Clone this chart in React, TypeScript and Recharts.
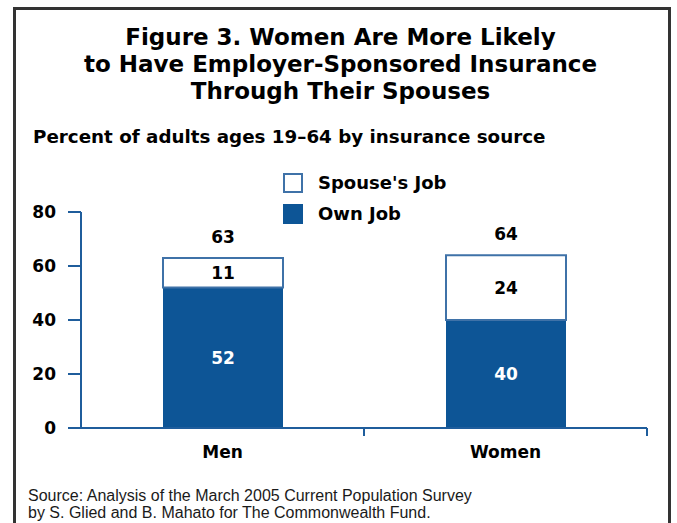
import React from 'react';
import { BarChart, Bar, XAxis, YAxis, LabelList, Legend } from 'recharts';

const categories = ['Men', 'Women'];
const ownJob = [52, 40];
const spouseJob = [11, 24];
const yTicks = [0, 20, 40, 60, 80];
const ownName = 'Own Job';
const spouseName = "Spouse's Job";
const titleLines = [
  'Figure 3. Women Are More Likely',
  'to Have Employer-Sponsored Insurance',
  'Through Their Spouses',
];
const subtitle = 'Percent of adults ages 19\u201364 by insurance source';
const sourceLines = [
  'Source: Analysis of the March 2005 Current Population Survey',
  'by S. Glied and B. Mahato for The Commonwealth Fund.',
];

const data = categories.map((c, i) => ({
  name: c,
  own: ownJob[i],
  spouse: spouseJob[i],
  total: ownJob[i] + spouseJob[i],
}));

const BLUE = '#0d5596';
const AXIS = '#1f5d9c';
const OUTLINE = '#3f72a8';
const BOLD = { fontFamily: 'DejaVu Sans', fontWeight: 'bold' as const, fontSize: 17 };
const X_TICK_SIZE = 8;
const X_TICK_MARGIN = 10;

const legendItems = [
  { name: spouseName, fill: '#ffffff', stroke: OUTLINE },
  { name: ownName, fill: BLUE, stroke: BLUE },
];

const renderLegend = () => (
  <div>
    {legendItems.map((it) => (
      <div key={it.name} style={{ display: 'flex', alignItems: 'center', height: 31 }}>
        <div
          style={{
            width: 20,
            height: 20,
            boxSizing: 'border-box',
            background: it.fill,
            border: `2px solid ${it.stroke}`,
            marginRight: 15,
          }}
        />
        <span style={{ fontFamily: 'DejaVu Sans', fontWeight: 'bold', fontSize: 18, color: '#000', whiteSpace: 'nowrap' }}>
          {it.name}
        </span>
      </div>
    ))}
  </div>
);

// Category tick: label at the band centre plus a boundary tick at the band's right edge
const CategoryTick = (props: any) => {
  const { x, y, payload } = props;
  const axisY = y - X_TICK_SIZE - X_TICK_MARGIN;
  const edge = x + (payload.offset || 0);
  return (
    <g>
      <line x1={edge} x2={edge} y1={axisY} y2={axisY + X_TICK_SIZE} stroke={AXIS} strokeWidth={2} />
      <text x={x} y={y} dy="0.71em" textAnchor="middle" {...BOLD} fill="#000">
        {payload.value}
      </text>
    </g>
  );
};

export default function App() {
  return (
    <div
      style={{
        position: 'fixed',
        left: 0,
        top: 0,
        width: 677,
        height: 523,
        overflow: 'hidden',
        background: '#fff',
      }}
    >
      <div
        style={{
          position: 'absolute',
          left: 13,
          top: 7,
          width: 658,
          height: 560,
          border: '3px solid #333',
          boxSizing: 'border-box',
        }}
      />
      <div
        style={{
          position: 'absolute',
          left: 0,
          top: 24,
          width: 681,
          textAlign: 'center',
          fontFamily: 'DejaVu Sans',
          fontWeight: 'bold',
          fontSize: 23,
          lineHeight: '27px',
          color: '#000',
        }}
      >
        {titleLines.map((l) => (
          <div key={l}>{l}</div>
        ))}
      </div>
      <div
        style={{
          position: 'absolute',
          left: 33,
          top: 126,
          fontFamily: 'DejaVu Sans',
          fontWeight: 'bold',
          fontSize: 18.3,
          lineHeight: '22px',
          color: '#000',
          whiteSpace: 'nowrap',
        }}
      >
        {subtitle}
      </div>
      <div style={{ position: 'absolute', left: 0, top: 0 }}>
        <BarChart
          width={677}
          height={523}
          data={data}
          margin={{ top: 212, right: 30, bottom: 65, left: 0 }}
          barSize={120}
        >
          <XAxis
            dataKey="name"
            height={30}
            axisLine={{ stroke: AXIS, strokeWidth: 2 }}
            tickLine={false}
            tickSize={X_TICK_SIZE}
            tickMargin={X_TICK_MARGIN}
            interval={0}
            tick={<CategoryTick />}
          />
          <YAxis
            width={81}
            domain={[0, 80]}
            ticks={yTicks}
            interval={0}
            axisLine={{ stroke: AXIS, strokeWidth: 2 }}
            tickLine={{ stroke: AXIS, strokeWidth: 2 }}
            tickSize={13}
            tickMargin={12}
            tick={{ ...BOLD, fill: '#000' }}
          />
          <Legend
            layout="vertical"
            align="center"
            verticalAlign="middle"
            content={renderLegend}
            wrapperStyle={{ position: 'absolute', left: 283, top: 167, width: 200, height: 62 }}
          />
          <Bar dataKey="own" name={ownName} stackId="a" fill={BLUE} isAnimationActive={false}>
            <LabelList dataKey="own" position="center" style={{ ...BOLD }} fill="#ffffff" />
          </Bar>
          <Bar
            dataKey="spouse"
            name={spouseName}
            stackId="a"
            fill="#ffffff"
            stroke={OUTLINE}
            strokeWidth={2}
            isAnimationActive={false}
          >
            <LabelList dataKey="spouse" position="center" style={{ ...BOLD }} fill="#000000" />
            <LabelList dataKey="total" position="top" offset={15} style={{ ...BOLD }} fill="#000000" />
          </Bar>
        </BarChart>
      </div>
      <div
        style={{
          position: 'absolute',
          left: 28,
          top: 487,
          fontFamily: 'Liberation Sans',
          fontSize: 16,
          lineHeight: '17px',
          color: '#1a1a1a',
          whiteSpace: 'nowrap',
        }}
      >
        {sourceLines.map((l) => (
          <div key={l}>{l}</div>
        ))}
      </div>
    </div>
  );
}
